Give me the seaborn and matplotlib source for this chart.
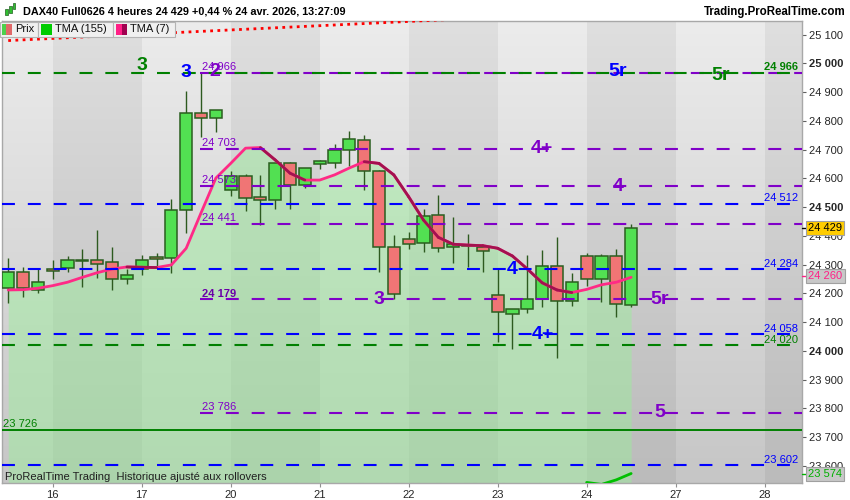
import numpy as np
import pandas as pd
import matplotlib
matplotlib.use("Agg")
import matplotlib.pyplot as plt
import seaborn as sns
from matplotlib.patches import Rectangle
from matplotlib.colors import LinearSegmentedColormap
from matplotlib.transforms import blended_transform_factory

# ---------------- data ----------------
opens = [24218, 24274, 24211, 24284, 24288, 24312, 24315, 24308, 24249, 24284,
         24326, 24322, 24489, 24826, 24809, 24559, 24607, 24535, 24524, 24652,
         24576, 24651, 24652, 24698, 24732, 24627, 24360, 24388, 24374, 24471,
         24360, 24370, 24360, 24194, 24128, 24145, 24180, 24294, 24173, 24329,
         24249, 24329, 24159]
closes = [24274, 24218, 24239, 24277, 24315, 24316, 24301, 24249, 24263, 24315,
          24319, 24489, 24826, 24809, 24836, 24609, 24531, 24524, 24652, 24576,
          24635, 24659, 24698, 24736, 24625, 24360, 24197, 24371, 24468, 24357,
          24371, 24366, 24347, 24135, 24145, 24180, 24294, 24173, 24239, 24249,
          24329, 24162, 24429]
highs = [24322, 24291, 24284, 24315, 24330, 24355, 24421, 24361, 24284, 24334,
         24341, 24528, 24904, 24965, 24836, 24626, 24614, 24612, 24655, 24657,
         24635, 24664, 24718, 24765, 24751, 24629, 24402, 24414, 24493, 24542,
         24465, 24406, 24360, 24287, 24145, 24333, 24351, 24395, 24270, 24340,
         24337, 24354, 24440]
lows = [24166, 24189, 24203, 24249, 24276, 24221, 24253, 24212, 24233, 24264,
        24291, 24270, 24411, 24743, 24762, 24539, 24488, 24438, 24495, 24495,
        24566, 24632, 24635, 24643, 24560, 24276, 24181, 24356, 24345, 24345,
        24305, 24293, 24276, 24032, 24008, 24131, 24154, 23977, 24157, 24225,
        24169, 24119, 24154]
tma7 = [24212, 24213, 24218, 24227, 24239, 24256, 24272, 24285, 24292, 24291,
        24290, 24299, 24357, 24480, 24601, 24652, 24705, 24707, 24664, 24618,
        24594, 24594, 24612, 24636, 24658, 24652, 24612, 24536, 24455, 24395,
        24371, 24368, 24366, 24357, 24330, 24285, 24237, 24212, 24203, 24214,
        24230, 24239, 24256]
tma155_idx = [39, 40, 41, 42]
tma155 = [23543, 23536, 23552, 23574]
upper_idx = [0, 13, 26, 30]
upper_vals = [25079, 25111, 25143, 25153]

day_labels = ["16", "17", "20", "21", "22", "23", "24", "27", "28"]
day_start_idx = [3, 9, 15, 21, 27, 33, 39, 45, 51]
dark_days = ["16", "20", "22", "24", "28"]

purple_levels = [24966, 24703, 24573, 24441, 24179, 23786]
blue_levels = [24512, 24284, 24058, 23602]
green_dashed_levels = [24966, 24020]
green_solid_level = 23726

wave_texts = ["3", "3", "2", "5r", "5r", "4+", "4", "4", "3", "5r", "4+", "5"]
wave_idx = [9.0, 12.0, 13.9, 41.1, 48.0, 36.0, 41.1, 34.0, 25.0, 43.9, 36.05, 43.9]
wave_price = [24991, 24968, 24970, 24970, 24956, 24703, 24573, 24284, 24179, 24179, 24058, 23786]
wave_kind = ["g", "b", "p", "b", "g", "p", "p", "b", "p", "p", "b", "p"]

title = "DAX40 Full0626 4 heures 24 429 +0,44 % 24 avr. 2026, 13:27:09"
last_price = 24429
tma7_last = 24260
tma155_last = 23574

# ---------------- style ----------------
sns.set_style("white")
plt.rcParams["font.family"] = ["Liberation Sans", "DejaVu Sans"]

PURPLE = "#8000c8"
BLUE = "#0000ff"
GREEN = "#008000"
PINK = "#ff2a86"
MAROON = "#a3124f"
COLS = {"p": PURPLE, "b": BLUE, "g": GREEN}

W, H = 850, 500
fig = plt.figure(figsize=(W / 100, H / 100), dpi=100)
fig.patch.set_facecolor("white")
ax = fig.add_axes([2 / W, 17 / H, 800 / W, 462 / H])

XL, XR = -0.42, 53.52
YB, YT = 23541, 25147
n = len(opens)
idx = np.arange(n)

# background gradient
cmap = LinearSegmentedColormap.from_list("bg", ["#ececec", "#c6c6c6"])
ax.imshow(np.linspace(0, 1, 256).reshape(-1, 1), extent=[XL, XR, YB, YT],
          origin="upper", aspect="auto", cmap=cmap, zorder=0)
# day bands
bounds = day_start_idx + [day_start_idx[-1] + 6]
for k, lab in enumerate(day_labels):
    if lab in dark_days:
        ax.axvspan(bounds[k], bounds[k + 1], color="black", alpha=0.055, lw=0, zorder=0.5)

# green fill under TMA(7)
ax.fill_between(idx, tma7, YB, color=(152 / 255, 241 / 255, 152 / 255), alpha=0.45,
                lw=0, zorder=1)

# candles
bw = 0.82
for i in range(n):
    o, c, h, l = opens[i], closes[i], highs[i], lows[i]
    up = c >= o
    ax.plot([i, i], [l, h], color="#2d5a1f", lw=1.0, zorder=2.9, solid_capstyle="butt")
    body_lo, body_h = min(o, c), max(abs(c - o), 3)
    ax.add_patch(Rectangle((i - bw / 2, body_lo), bw, body_h,
                           facecolor="#52e052" if up else "#f07575",
                           edgecolor="#2a5e1f", lw=1.1, zorder=3))

# TMA(7)
df = pd.DataFrame({"i": idx, "tma": tma7})
sns.lineplot(data=df, x="i", y="tma", ax=ax, color=PINK, lw=2.0, zorder=4)
for i in range(n - 1):
    if tma7[i + 1] < tma7[i]:
        ax.plot([i, i + 1], [tma7[i], tma7[i + 1]], color=MAROON, lw=2.0, zorder=4.1,
                solid_capstyle="round")
# TMA(155) (only end visible)
ax.plot(tma155_idx, tma155, color="#00c000", lw=2.0, zorder=4)

# red dotted upper band
ax.plot(upper_idx, upper_vals, color="#ff0000", lw=2.0, dashes=(1, 1.6), zorder=4)

# level lines
dash = (6.2, 6.2)
for lv in purple_levels:
    ax.plot([12.9, XR], [lv, lv], color=PURPLE, lw=1.5, dashes=dash, zorder=5)
for lv in blue_levels:
    ax.plot([XL, XR], [lv, lv], color=BLUE, lw=1.5, dashes=dash, zorder=5)
for lv in green_dashed_levels:
    ax.plot([XL, XR], [lv, lv], color=GREEN, lw=1.5, dashes=dash, zorder=5.1)
ax.plot([XL, XR], [green_solid_level] * 2, color=GREEN, lw=1.4, zorder=5)

def fmt(v):
    return f"{int(v):,}".replace(",", " ")

# level labels
for lv in purple_levels:
    ax.annotate(fmt(lv), (13.05, lv), xytext=(0, 0.5), textcoords="offset points",
                color=PURPLE if lv != 24179 else "#6a00a8", fontsize=8,
                fontweight="bold" if lv == 24179 else "normal",
                ha="left", va="bottom", zorder=6)
for lv in blue_levels:
    ax.annotate(fmt(lv), (53.25, lv), xytext=(0, 0.5), textcoords="offset points",
                color=BLUE, fontsize=8, ha="right", va="bottom", zorder=6)
for lv in green_dashed_levels:
    ax.annotate(fmt(lv), (53.25, lv), xytext=(0, 0.5), textcoords="offset points",
                color=GREEN, fontsize=8, ha="right", va="bottom", zorder=6,
                fontweight="bold" if lv == 24966 else "normal")
ax.annotate(fmt(green_solid_level), (XL, green_solid_level), xytext=(1, 0.5),
            textcoords="offset points", color=GREEN, fontsize=8, ha="left",
            va="bottom", zorder=6)

# wave labels
for t, xi, pr, k in zip(wave_texts, wave_idx, wave_price, wave_kind):
    ax.text(xi, pr, t, color=COLS[k], fontsize=14, fontweight="bold",
            ha="center", va="center", zorder=7)

ax.text(0.004, 0.003, "ProRealTime Trading  Historique ajusté aux rollovers",
        transform=ax.transAxes, fontsize=8, color="#202020", ha="left",
        va="bottom", zorder=7)

# axes
ax.set_xlim(XL, XR)
ax.set_ylim(YB, YT)
ax.yaxis.tick_right()
yt = list(range(23600, 25101, 100))
ax.set_yticks(yt)
ax.set_yticklabels([fmt(v) for v in yt])
for lbl, v in zip(ax.get_yticklabels(), yt):
    if v % 500 == 0:
        lbl.set_fontweight("bold")
        lbl.set_fontsize(8.8)
ax.tick_params(axis="y", which="both", right=True, left=False, length=3,
               width=0.8, color="#606060", labelsize=8, pad=2, direction="out")
ax.set_xticks(day_start_idx)
ax.set_xticklabels(day_labels)
ax.tick_params(axis="x", bottom=True, length=3, width=0.8, color="#909090",
               labelsize=8, pad=2, direction="out")
ax.set_xlabel("")
ax.set_ylabel("")
for s in ax.spines.values():
    s.set_color("#a8a8a8")
    s.set_linewidth(1.0)

# price tags on right axis
tr = blended_transform_factory(ax.transAxes, ax.transData)
tags = [(last_price, "black", "#ffcc00"), (tma7_last, "#ff1f86", "#c8c8c8"),
        (tma155_last, "#00b000", "#c8c8c8")]
for v, fc, bg in tags:
    ax.plot([1.0, 1.005], [v, v], transform=tr, color=fc,
            lw=1, clip_on=False, zorder=19)
    ax.text(1.008, v, fmt(v), transform=tr, color=fc, fontsize=8, ha="left",
            va="center", zorder=20, clip_on=False,
            bbox=dict(boxstyle="square,pad=0.18", fc=bg, ec="#a0a0a0", lw=0.8))

# ---------------- header ----------------
def fx(x):
    return x / W

def fy(y):
    return 1 - y / H

fig.text(fx(23), fy(11), title, fontsize=7.8, fontweight="bold", color="black",
         ha="left", va="center")
fig.text(fx(846), fy(12), "Trading.ProRealTime.com", fontsize=8.3,
         fontweight="bold", color="black", ha="right", va="center")
# tiny icon
for xx, y0, hh in [(5, 9, 6), (9, 6, 7), (13, 3, 6)]:
    fig.add_artist(Rectangle((fx(xx), fy(y0 + hh)), 2.5 / W, hh / H,
                             transform=fig.transFigure, fc="#30c030", ec="#206020", lw=0.5))

# legend boxes
boxes = [(0, 38, "Prix"), (38, 113, "TMA (155)"), (113, 175, "TMA (7)")]
for x0, x1, lab in boxes:
    fig.add_artist(Rectangle((fx(x0), fy(37)), (x1 - x0) / W, 15 / H,
                             transform=fig.transFigure, fc="#f0f0f0", ec="#b4b4b4",
                             lw=0.8, zorder=5))
# icons
fig.add_artist(Rectangle((fx(2), fy(35)), 4 / W, 11 / H, transform=fig.transFigure,
                         fc="#4cd04c", ec="none", zorder=6))
fig.add_artist(Rectangle((fx(6), fy(35)), 6 / W, 11 / H, transform=fig.transFigure,
                         fc="#e06868", ec="none", zorder=6))
fig.add_artist(Rectangle((fx(41), fy(35)), 11 / W, 11 / H, transform=fig.transFigure,
                         fc="#00cc00", ec="none", zorder=6))
fig.add_artist(Rectangle((fx(116), fy(35)), 6 / W, 11 / H, transform=fig.transFigure,
                         fc="#ff1f86", ec="none", zorder=6))
fig.add_artist(Rectangle((fx(122), fy(35)), 5 / W, 11 / H, transform=fig.transFigure,
                         fc="#a00050", ec="none", zorder=6))
for x, lab in [(15, "Prix"), (55, "TMA (155)"), (130, "TMA (7)")]:
    fig.text(fx(x), fy(29.5), lab, fontsize=8.0, color="#101010", ha="left",
             va="center", zorder=7)

fig.savefig("out.png", dpi=100)
